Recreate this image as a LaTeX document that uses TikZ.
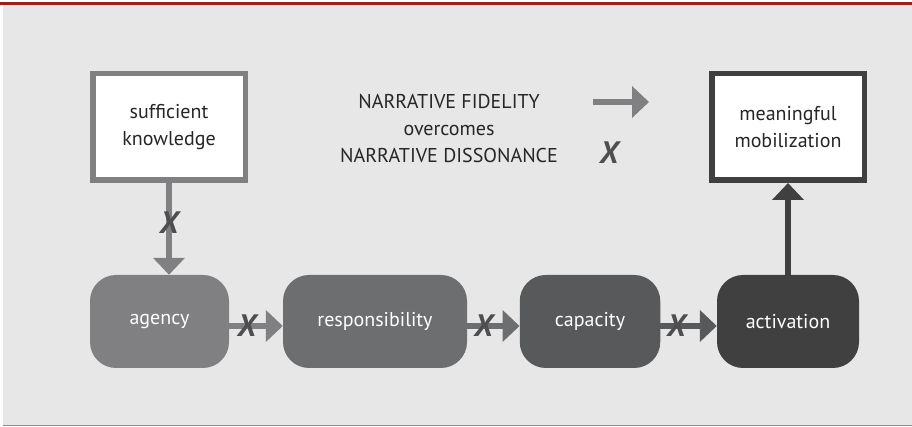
\documentclass[tikz,border=0pt]{standalone}
\usepackage{fontspec}
\setmainfont{PT Sans}
\usetikzlibrary{positioning}
\usetikzlibrary{arrows.meta}
\usetikzlibrary{calc}

\definecolor{pagegray}{HTML}{E6E7E6}
\definecolor{rulered}{HTML}{9E1F1F}
\definecolor{footred}{HTML}{C8746A}
\definecolor{inkdark}{HTML}{262626}
\definecolor{xmark}{HTML}{4E4E50}
\definecolor{stepA}{HTML}{808083}
\definecolor{stepB}{HTML}{6D6E70}
\definecolor{stepC}{HTML}{58595B}
\definecolor{stepD}{HTML}{404041}

\tikzset{
	outcome/.style={draw=#1, fill=white, line width=5.5pt, minimum width=152.5pt, minimum height=106.5pt, align=center, text=inkdark, font=\fontsize{20}{27}\selectfont},
	stage/.style={fill=#1, rounded corners=26pt, minimum height=93pt, text=white, font=\fontsize{20}{22}\selectfont},
	flow/.style={draw=#1, line width=6pt, -{Triangle[length=17pt, width=31pt]}},
	cross/.style={text=xmark, font=\fontsize{31}{31}\selectfont\bfseries\itshape, inner sep=0pt}
}

\begin{document}
\begin{tikzpicture}[x=1pt, y=1pt]
		\useasboundingbox (0,0) rectangle (912,427);
		
		% page band and rules
		\fill[pagegray] (3,1) rectangle (912,422);
		\draw[rulered, line width=3pt] (0,423.7) -- (912,423.7);
		\draw[footred, line width=1.4pt] (3,1.3) -- (912,1.3);
		
		% outcome boxes
		\node[outcome=stepA] (knowledge) at (169,300) {sufficient\\knowledge};
		\node[outcome=stepD] (mobilization) at (788,300) {meaningful\\mobilization};
		
		% legend
		\node[align=center, text=inkdark, font=\fontsize{20}{27}\selectfont] (legend) at (449,298.5) {NARRATIVE FIDELITY\\overcomes\\NARRATIVE DISSONANCE};
		\coordinate (keystart) at (593,325);
		\coordinate (keyend) at (649,325);
		\draw[flow=stepA] (keystart) -- (keyend);
		\node[cross] (keycross) at (609,274) {X};
		
		% stages
		\node[stage=stepA, minimum width=139pt] (agency) at (159.5,105.5) {agency};
		\node[stage=stepB, minimum width=184pt] (responsibility) at (375,105.5) {responsibility};
		\node[stage=stepC, minimum width=140.5pt] (capacity) at (590,105.5) {capacity};
		\node[stage=stepD, minimum width=142pt] (activation) at (788,105.5) {activation};
		
		% connectors
		\draw[flow=stepA] (knowledge.south) -- (knowledge.south |- agency.north) node[cross, pos=0.43] {X};
		\draw[flow=stepA] ([yshift=-4.5pt]agency.east) -- ([yshift=-4.5pt]responsibility.west) node[cross, pos=0.33] {X};
		\draw[flow=stepB] ([yshift=-4.5pt]responsibility.east) -- ([yshift=-4.5pt]capacity.west) node[cross, pos=0.31] {X};
		\draw[flow=stepC] ([yshift=-4.5pt]capacity.east) -- ([yshift=-4.5pt]activation.west) node[cross, pos=0.28] {X};
		\draw[flow=stepD] (activation.north) -- (mobilization.south);
		
	\end{tikzpicture}
\end{document}
